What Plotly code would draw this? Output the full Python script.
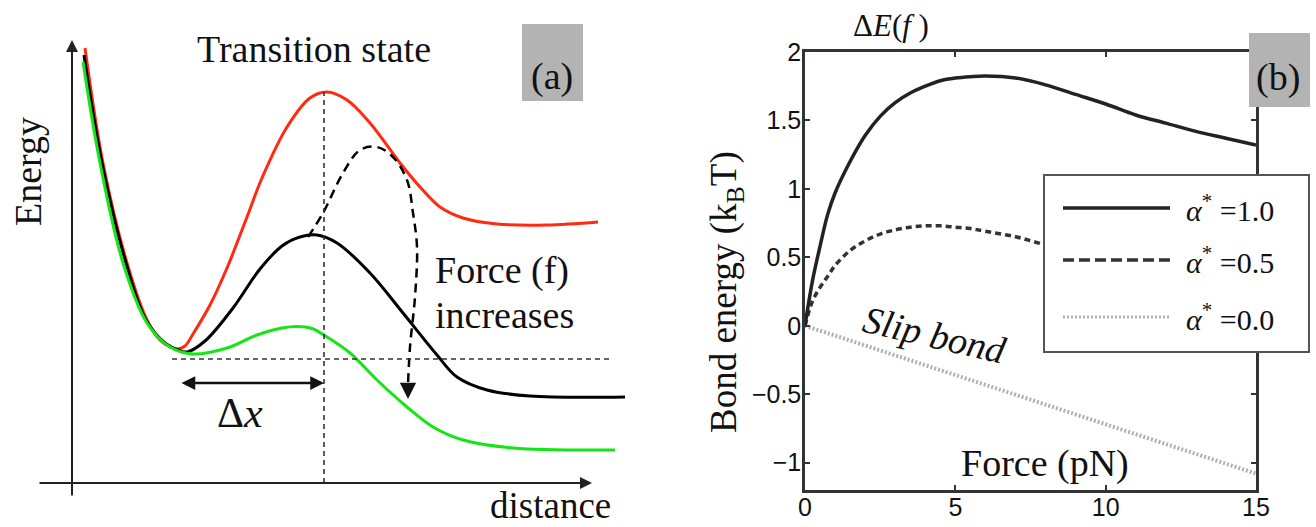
import plotly.graph_objects as go

W, H = 1316, 527
SERIF = "Liberation Serif"
SANS = "Liberation Sans"

# ---------------- Panel (b) data: bond energy vs force ----------------
force_a1 = [0, 0.25, 0.5, 0.75, 1, 1.5, 2, 2.5, 3, 3.5, 4, 4.5, 5, 5.5, 6, 7, 8, 9, 10, 11, 12, 13, 14, 15]
energy_a1 = [0, 0.33, 0.58, 0.81, 0.97, 1.20, 1.39, 1.53, 1.63, 1.70, 1.75, 1.79, 1.81, 1.82, 1.825,
             1.81, 1.76, 1.69, 1.62, 1.54, 1.48, 1.42, 1.37, 1.32]
force_a05 = [0, 0.25, 0.5, 0.75, 1, 1.5, 2, 2.5, 3, 3.5, 4, 4.5, 5, 5.5, 6, 7, 8, 9, 10, 11, 12, 13, 14, 15]
energy_a05 = [0, 0.18, 0.28, 0.36, 0.44, 0.55, 0.62, 0.67, 0.70, 0.72, 0.73, 0.73, 0.72, 0.71, 0.69,
              0.65, 0.59, 0.53, 0.46, 0.40, 0.34, 0.27, 0.20, 0.12]
force_a0 = [0, 5, 10, 15]
energy_a0 = [0, -0.36, -0.72, -1.08]
legend_labels = ["=1.0", "=0.5", "=0.0"]
x_ticks = [0, 5, 10, 15]
y_ticks = [-1, -0.5, 0, 0.5, 1, 1.5, 2]
y_ticklabels = ["\u22121", "\u22120.5", "0", "0.5", "1", "1.5", "2"]

# ---------------- Panel (a) data: schematic energy landscapes ----------------
red_d = [0.26, 0.62, 1.10, 1.50, 1.76, 1.96, 2.10, 2.26, 2.42, 2.76, 3.10, 3.50, 3.80, 4.30, 4.76,
         5.10, 5.50, 5.96, 6.56, 6.96, 7.36, 7.82, 8.50, 9.50, 10.52]
red_e = [8.70, 6.40, 4.40, 3.26, 2.86, 2.72, 2.68, 2.74, 2.98, 3.56, 4.30, 5.32, 6.10, 7.12, 7.70,
         7.82, 7.66, 7.20, 6.40, 5.92, 5.52, 5.30, 5.18, 5.16, 5.22]
black_d = [0.24, 0.60, 1.08, 1.48, 1.86, 2.12, 2.30, 2.66, 3.22, 3.76, 4.20, 4.56, 4.90, 5.30, 5.96,
           6.62, 7.30, 7.70, 8.30, 9.16, 11.06]
black_e = [8.56, 6.40, 4.40, 3.26, 2.80, 2.66, 2.62, 2.84, 3.50, 4.28, 4.74, 4.92, 4.96, 4.80, 4.20,
           3.40, 2.56, 2.12, 1.86, 1.74, 1.72]
green_d = [0.22, 0.56, 1.02, 1.50, 1.96, 2.42, 3.10, 3.70, 4.20, 4.50, 4.80, 5.10, 5.56, 6.10, 6.70, 7.22,
           7.82, 8.82, 10.86]
green_e = [8.42, 6.40, 4.40, 3.20, 2.72, 2.58, 2.70, 2.96, 3.10, 3.13, 3.09, 2.92, 2.60, 2.06, 1.52, 1.12,
           0.86, 0.70, 0.66]
arrow_d = [4.72, 5.02, 5.42, 5.76, 6.10, 6.42, 6.70, 6.82, 6.90, 6.86, 6.76, 6.72]
arrow_e = [4.92, 5.40, 6.20, 6.66, 6.72, 6.52, 6.06, 5.40, 4.72, 3.72, 2.72, 1.96]
min_level = 2.48          # energy of the bound-state minimum (horizontal dashed line)
ts_distance = 5.04        # transition-state distance (vertical dashed line)
ts_energy = 7.82
hline_span = [2.0, 10.76]
dx_level = 2.0
dx_start = 2.16


def px(x):
    return x / W


def py(y):
    return 1 - y / H


fig = go.Figure()

spl = dict(shape="spline", smoothing=1.0)
# panel (a) traces
fig.add_trace(go.Scatter(x=red_d, y=red_e, mode="lines", line=dict(color="#ff2a10", width=3, **spl),
                         xaxis="x2", yaxis="y2", showlegend=False))
fig.add_trace(go.Scatter(x=black_d, y=black_e, mode="lines", line=dict(color="#000000", width=3, **spl),
                         xaxis="x2", yaxis="y2", showlegend=False))
fig.add_trace(go.Scatter(x=green_d, y=green_e, mode="lines", line=dict(color="#14e614", width=3, **spl),
                         xaxis="x2", yaxis="y2", showlegend=False))
fig.add_trace(go.Scatter(x=arrow_d, y=arrow_e, mode="lines", line=dict(color="#000000", width=2.5, dash="9px,6px", **spl),
                         xaxis="x2", yaxis="y2", showlegend=False))
fig.add_trace(go.Scatter(x=hline_span, y=[min_level, min_level], mode="lines", line=dict(color="#333", width=1.6, dash="5px,4px"),
                         xaxis="x2", yaxis="y2", showlegend=False))
fig.add_trace(go.Scatter(x=[ts_distance, ts_distance], y=[0, ts_energy], mode="lines", line=dict(color="#333", width=1.6, dash="5px,4px"),
                         xaxis="x2", yaxis="y2", showlegend=False))

# panel (b) traces
fig.add_trace(go.Scatter(x=force_a0, y=energy_a0, mode="lines", line=dict(color="#b0b0b0", width=4, dash="2px,2px"),
                         xaxis="x", yaxis="y", showlegend=False))
fig.add_trace(go.Scatter(x=force_a05, y=energy_a05, mode="lines", line=dict(color="#333333", width=3.5, dash="6px,4px", shape="spline"),
                         xaxis="x", yaxis="y", showlegend=False))
fig.add_trace(go.Scatter(x=force_a1, y=energy_a1, mode="lines", line=dict(color="#222222", width=3.5, shape="spline"),
                         xaxis="x", yaxis="y", showlegend=False))

axis_common = dict(showgrid=False, zeroline=False, showline=True, mirror="ticks", linecolor="#333",
                   linewidth=2.5, ticks="inside", ticklen=5, tickwidth=2, tickcolor="#333", automargin=False,
                   tickfont=dict(family=SANS, size=25, color="#111"))

fig.update_layout(
    template="none",
    width=W, height=H, autosize=False, margin=dict(l=0, r=0, t=0, b=0, pad=0),
    paper_bgcolor="white", plot_bgcolor="rgba(0,0,0,0)",
    xaxis=dict(domain=[805 / W, 1256 / W], range=[0, 15], tickvals=x_ticks, anchor="y",
               ticklabelstandoff=-7, **axis_common),
    yaxis=dict(domain=[py(490), py(52)], range=[-1.2, 2], tickvals=y_ticks, ticktext=y_ticklabels, anchor="x",
               ticklabelstandoff=-4, **axis_common),
    xaxis2=dict(domain=[0, 660 / W], range=[-1.44, 11.76], visible=False, anchor="y2", automargin=False),
    yaxis2=dict(domain=[0, 1], range=[-0.88, 9.66], visible=False, anchor="x2", automargin=False),
)

shapes = []
# gray label boxes
shapes.append(dict(type="rect", xref="paper", yref="paper", x0=px(522), x1=px(583), y0=py(101), y1=py(24),
                   fillcolor="#b3b3b3", line=dict(width=0), layer="above"))
shapes.append(dict(type="rect", xref="paper", yref="paper", x0=px(1249), x1=px(1310), y0=py(107), y1=py(33),
                   fillcolor="#b3b3b3", line=dict(width=0), layer="above"))
# legend box for panel (b)
shapes.append(dict(type="rect", xref="paper", yref="paper", x0=px(1044), x1=px(1309), y0=py(352), y1=py(175),
                   fillcolor="white", line=dict(color="#555", width=2), layer="above"))
leg_styles = [dict(color="#222", width=3.5), dict(color="#333", width=3.5, dash="11px,5px"),
              dict(color="#b0b0b0", width=3, dash="2px,2px")]
leg_y = [208, 260, 317]
for ly, st in zip(leg_y, leg_styles):
    shapes.append(dict(type="line", xref="paper", yref="paper", x0=px(1063), x1=px(1170), y0=py(ly), y1=py(ly),
                       line=st, layer="above"))
fig.update_layout(shapes=shapes)

ann = []


def text(x, y, s, size=38, xanchor="center", angle=0, color="#111"):
    ann.append(dict(x=px(x), y=py(y), xref="paper", yref="paper", text=s, showarrow=False,
                    xanchor=xanchor, yanchor="middle", textangle=angle,
                    font=dict(family=SERIF, size=size, color=color)))


# panel (a) axes arrows
ann.append(dict(x=0, y=8.86, ax=0, ay=-0.28, xref="x2", yref="y2", axref="x2", ayref="y2", text="",
                showarrow=True, arrowhead=2, arrowsize=1.2, arrowwidth=2, arrowcolor="#222"))
ann.append(dict(x=10.4, y=0, ax=-0.68, ay=0, xref="x2", yref="y2", axref="x2", ayref="y2", text="",
                showarrow=True, arrowhead=2, arrowsize=1.2, arrowwidth=2, arrowcolor="#222"))
# delta-x double arrow
ann.append(dict(x=ts_distance, y=dx_level, ax=dx_start, ay=dx_level, xref="x2", yref="y2", axref="x2", ayref="y2",
                text="", showarrow=True, arrowhead=2, startarrowhead=2, arrowside="end+start", arrowsize=1.1,
                startarrowsize=1.1, arrowwidth=2.5, arrowcolor="#111"))
# head of the dashed arrow
ann.append(dict(x=arrow_d[-1], y=1.68, ax=arrow_d[-1], ay=arrow_e[-1], xref="x2", yref="y2", axref="x2", ayref="y2",
                text="", showarrow=True, arrowhead=2, arrowsize=1.3, arrowwidth=2.5, arrowcolor="#111"))

text(314, 49, "Transition state")
text(552, 76, "(a)")
text(28, 172, "Energy", angle=-90)
text(550, 505, "distance", size=37)
text(240, 413, "\u0394<i>x</i>", size=42)
text(433, 270, "Force (f)", xanchor="left")
text(433, 315, "increases", xanchor="left")

# panel (b)
text(891, 26, "\u0394<i>E</i>(<i>f</i> )", size=31)
text(1278, 78, "(b)")
text(726, 292, "Bond energy (k<sub>B</sub>T)", size=37, angle=-90)
text(1045, 463, "Force (pN)")
text(935, 335, "<i>Slip bond</i>", size=38, angle=13)
for ly, lab in zip(leg_y, legend_labels):
    text(1184, ly, "<i>\u03b1</i><sup>*</sup> " + lab, size=30, xanchor="left")

fig.update_layout(annotations=ann)
fig.write_html("out.html", config={"displayModeBar": False},
               post_script="document.body.style.margin='0px';document.body.style.overflow='hidden';")
